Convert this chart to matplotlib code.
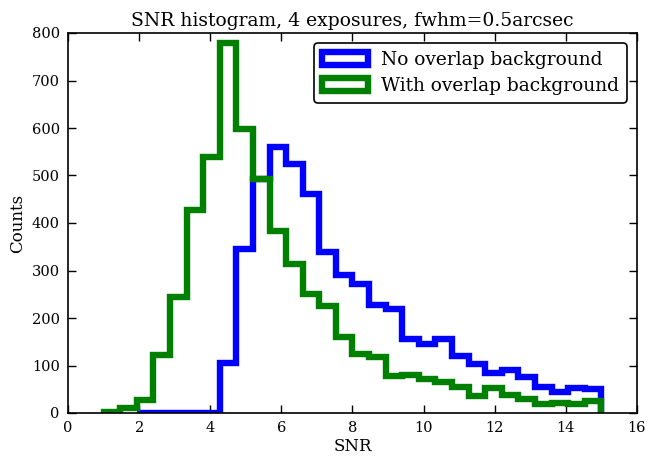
import numpy as np
import matplotlib
matplotlib.use("Agg")
import matplotlib.pyplot as plt

# Data
bin_edges = np.linspace(1.0, 15.0, 31)
no_overlap = [0, 0, 0, 0, 0, 0, 0, 105, 345, 492, 560, 525, 460, 340, 290,
              272, 228, 220, 155, 145, 155, 120, 103, 85, 90, 75, 55, 45, 53, 50]
with_overlap = [3, 10, 28, 122, 245, 428, 540, 780, 597, 492, 383, 313, 250, 225, 160,
                125, 118, 78, 80, 72, 66, 55, 35, 52, 38, 30, 20, 22, 18, 25]
labels = ["No overlap background", "With overlap background"]
title = "SNR histogram, 4 exposures, fwhm=0.5arcsec"

plt.rcParams['font.family'] = ['DejaVu Serif']
plt.rcParams['mathtext.fontset'] = 'dejavuserif'

fig = plt.figure(figsize=(6.51, 4.63), dpi=100)
ax = fig.add_axes([68/651, 1 - 413/463, (637-68)/651, (413-33)/463])

centers = 0.5 * (bin_edges[:-1] + bin_edges[1:])
start = 2  # blue histogram range begins at the third edge
ax.hist(centers[start:], bins=bin_edges[start:], weights=no_overlap[start:],
        histtype='step', color='#0000ff', linewidth=4.6, label=labels[0])
ax.hist(centers, bins=bin_edges, weights=with_overlap, histtype='step',
        color='#008000', linewidth=4.6, label=labels[1])

ax.set_xlim(0, 16)
ax.set_ylim(0, 800)
ax.set_xticks(np.arange(0, 17, 2))
ax.set_yticks(np.arange(0, 801, 100))
ax.tick_params(direction='in', top=True, right=True, length=6, width=1,
               labelsize=10.5, pad=6)
for s in ax.spines.values():
    s.set_linewidth(1.2)

ax.set_xlabel("SNR", fontsize=12, labelpad=2)
ax.set_ylabel("Counts", fontsize=12, labelpad=4)
ax.set_title(title, fontsize=13.5, pad=5)

leg = ax.legend(loc='upper right', fontsize=13.4, fancybox=True, framealpha=1,
                edgecolor='black', borderpad=0.4, handlelength=2.5,
                handletextpad=0.7, labelspacing=0.45, borderaxespad=0.55)
leg.get_frame().set_linewidth(1.2)

fig.savefig("out.png", dpi=100)
